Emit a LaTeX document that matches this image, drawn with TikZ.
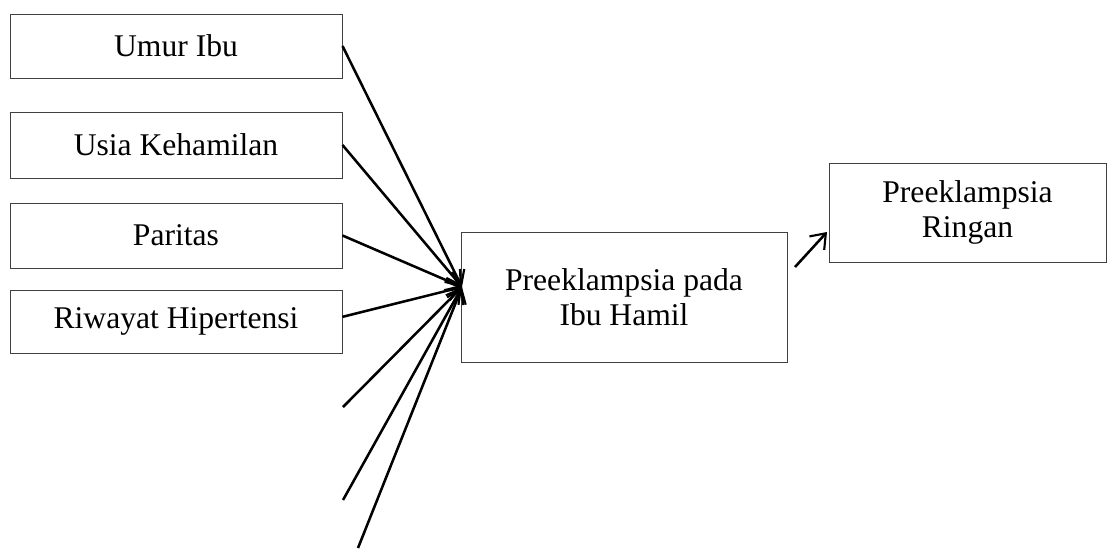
\documentclass[tikz,border=0pt]{standalone}
\usepackage{fontspec}
\setmainfont{Liberation Serif}
\usepackage{tikz}
\usetikzlibrary{arrows.meta}

\tikzset{
  var/.style={draw=black!75, line width=0.75pt, minimum width=249pt, align=center, font=\fontsize{23.7}{26.5}\selectfont, inner sep=0pt},
  link/.style={line width=1.9pt}
}

\begin{document}
\begin{tikzpicture}[x=0.75pt,y=-0.75pt,>={Straight Barb[length=10pt,width=15pt,line width=1.6pt]}]
		
		\useasboundingbox (0,0) rectangle (1109,551);
		
		%--- Independent variables ---
		\node[var, minimum height=48pt] (umur) at (176,46) {Umur Ibu};
		\node[var, minimum height=49.5pt] (usia) at (176,145) {Usia Kehamilan};
		\node[var, minimum height=48.75pt] (paritas) at (176,235.5) {Paritas};
		\node[var, minimum height=47.25pt] (riwayat) at (176,321.5) {Riwayat Hipertensi};
		
		%--- Dependent variable ---
		\node[var, minimum width=244.5pt, minimum height=97.5pt] (pe) at (624,297) {Preeklampsia pada\\Ibu Hamil};
		\node[var, minimum width=207.75pt, minimum height=74.25pt] (ringan) at (967.5,212.5) {Preeklampsia\\Ringan};
		
		% Point where the arrows meet
		\coordinate (hub) at (462,287);
		
		% Loose ends (unnamed factors)
		\coordinate (f1) at (343,407);
		\coordinate (f2) at (343,500);
		\coordinate (f3) at (358,548);
		
		% Arrows into the central box
		\draw[link,->] (umur.east) -- (hub);
		\draw[link,->] (usia.east) -- (hub);
		\draw[link,->] (paritas.east) -- (hub);
		\draw[link,->] ([yshift=3.5pt]riwayat.east) -- (hub);
		\draw[link,->] (f1) -- (hub);
		\draw[link,->] (f2) -- (hub);
		\draw[link,->] (f3) -- (hub);
		
		%--- Arrow to the outcome ---
		\coordinate (out) at (795,267);
		\coordinate (in) at (827,232);
		\draw[link,->] (out) -- (in);
		
	\end{tikzpicture}
\end{document}
